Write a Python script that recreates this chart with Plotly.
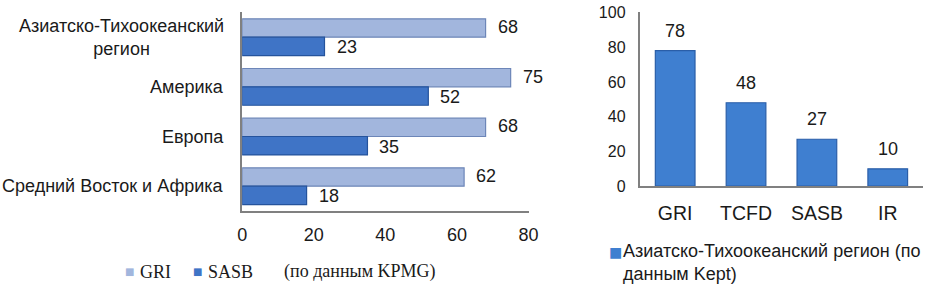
import plotly.graph_objects as go

# ---- data ----
regions = ["Азиатско-Тихоокеанский<br>регион", "Америка", "Европа", "Средний Восток и Африка"]
gri_vals = [68, 75, 68, 62]
sasb_vals = [23, 52, 35, 18]

standards = ["GRI", "TCFD", "SASB", "IR"]
apac_vals = [78, 48, 27, 10]

left_ticks = [0, 20, 40, 60, 80]
right_ticks = [0, 20, 40, 60, 80, 100]

left_series = ["GRI", "SASB"]
left_note = "(по данным KPMG)"
right_series = "Азиатско-Тихоокеанский регион (по<br>данным Kept)"

W, H = 944, 291
# vertical correction measured from earlier renders of this page
VS, VO = 0.948, 7.6

SANS = "Liberation Sans, Arial, sans-serif"
SERIF = "Liberation Serif, Times New Roman, serif"
SYM = "DejaVu Sans, sans-serif"
TXT = "#1a1a1a"
AX = "#808080"
C_GRI, L_GRI = "#a2b6dd", "#6d86b8"
C_SASB, L_SASB = "#3f74c6", "#25539c"
C_KEPT, L_KEPT = "#3f7fd0", "#2a5ea8"


def px_x(p):
    return p / W


def fig_y(p):
    return (p - VO) / VS


def px_y(p):
    return 1 - fig_y(p) / H


def dy(p):
    return p / VS


fig = go.Figure()

fig.add_trace(go.Bar(
    y=regions, x=gri_vals, orientation="h", name=left_series[0],
    marker=dict(color=C_GRI, line=dict(color=L_GRI, width=1.2)),
    xaxis="x", yaxis="y", hoverinfo="x",
))
fig.add_trace(go.Bar(
    y=regions, x=sasb_vals, orientation="h", name=left_series[1],
    marker=dict(color=C_SASB, line=dict(color=L_SASB, width=1.2)),
    xaxis="x", yaxis="y", hoverinfo="x",
))
fig.add_trace(go.Bar(
    x=standards, y=apac_vals, name=right_series, width=0.56,
    marker=dict(color=C_KEPT, line=dict(color=L_KEPT, width=1.2)),
    xaxis="x2", yaxis="y2", hoverinfo="y",
))

ann = []
for r in regions:
    ann.append(dict(x=px_x(225), xref="paper", y=r, yref="y", text=r, showarrow=False,
                    xanchor="right", yanchor="middle", align="center",
                    font=dict(family=SANS, size=18, color=TXT)))
for r, v in zip(regions, gri_vals):
    ann.append(dict(x=v, y=r, xref="x", yref="y", text=str(v), showarrow=False,
                    xanchor="left", yanchor="middle", xshift=10, yshift=dy(9.5),
                    font=dict(family=SANS, size=18, color=TXT)))
for r, v in zip(regions, sasb_vals):
    ann.append(dict(x=v, y=r, xref="x", yref="y", text=str(v), showarrow=False,
                    xanchor="left", yanchor="middle", xshift=10, yshift=-dy(9.5),
                    font=dict(family=SANS, size=18, color=TXT)))
for s, v in zip(standards, apac_vals):
    ann.append(dict(x=s, y=v, xref="x2", yref="y2", text=str(v), showarrow=False,
                    xanchor="center", yanchor="middle", yshift=dy(19),
                    font=dict(family=SANS, size=18, color=TXT)))


def swatch(xc, yc, color, size):
    ann.append(dict(x=px_x(xc), y=px_y(yc), xref="paper", yref="paper", text="■",
                    showarrow=False, xanchor="center", yanchor="middle",
                    font=dict(family=SYM, size=size, color=color)))


def label(x0, yc, text, family):
    ann.append(dict(x=px_x(x0), y=px_y(yc), xref="paper", yref="paper", text=text,
                    showarrow=False, xanchor="left", yanchor="middle", align="left",
                    font=dict(family=family, size=18, color=TXT)))


swatch(127, 273, C_GRI, 10)
label(135, 273, left_series[0], SERIF)
swatch(196, 273, C_SASB, 10)
label(204, 273, left_series[1], SERIF)
label(281, 273, left_note, SERIF)
swatch(620, 253, C_KEPT, 14)
label(626, 264, right_series, SANS)

fig.update_layout(
    width=W, height=H,
    margin=dict(l=0, r=0, t=0, b=0),
    paper_bgcolor="white", plot_bgcolor="white",
    barmode="group", bargap=0.26, bargroupgap=0.0,
    showlegend=False,
    font=dict(family=SANS, size=18, color=TXT),
    xaxis=dict(
        domain=[px_x(241), px_x(532)], range=[0, 80], anchor="y",
        tickvals=left_ticks, showgrid=False, zeroline=False,
        showline=True, linecolor=AX, linewidth=2, ticks="",
        ticklabelstandoff=6, ticklabeloverflow="allow",
        tickfont=dict(family=SANS, size=18, color=TXT),
    ),
    yaxis=dict(
        domain=[px_y(212), px_y(12)], anchor="x", autorange="reversed",
        showticklabels=False, showgrid=False, zeroline=False,
        showline=True, linecolor=AX, linewidth=2, ticks="",
    ),
    xaxis2=dict(
        domain=[px_x(645), px_x(933)], anchor="y2",
        showgrid=False, zeroline=False, showline=True, linecolor=AX, linewidth=2,
        ticks="", ticklabelstandoff=8, ticklabeloverflow="allow",
        tickfont=dict(family=SANS, size=19.5, color=TXT),
    ),
    yaxis2=dict(
        domain=[px_y(187), px_y(12)], anchor="x2", range=[0, 100],
        tickvals=right_ticks, showgrid=False, zeroline=False,
        showline=True, linecolor=AX, linewidth=2, ticks="",
        ticklabelstandoff=9, ticklabeloverflow="allow",
        tickfont=dict(family=SANS, size=16, color=TXT),
    ),
    annotations=ann,
)

fig.write_html("out.html", config={"displayModeBar": False},
               post_script="document.body.style.margin='0px';")
